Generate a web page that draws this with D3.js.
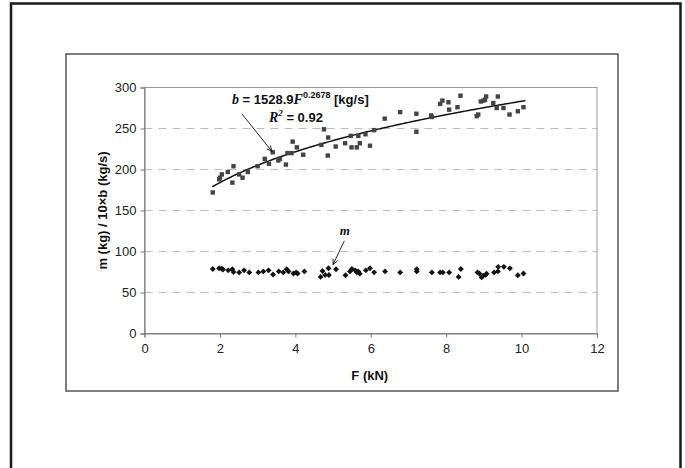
<!DOCTYPE html>
<html>
<head>
<meta charset="utf-8">
<script src="https://cdnjs.cloudflare.com/ajax/libs/d3/7.8.5/d3.min.js"></script>
<style>
  body { margin: 0; background: #fff; }
  svg { display: block; }
  .tick text { font-family: "Liberation Sans", Arial, sans-serif; font-size: 13px; fill: #222; }
</style>
</head>
<body>
<div id="chart"></div>
<script>
// b data: F (kN) and 10 x b (kg/s)
var bF = [1.81, 1.98, 2.00, 2.05, 2.21, 2.36, 2.33, 2.51, 2.60, 2.74, 3.00, 3.19, 3.30, 3.40, 3.55,
  3.59, 3.75, 3.79, 3.93, 3.90, 4.04, 4.21, 4.69, 4.76, 4.87, 4.86, 5.07, 5.32, 5.47, 5.49,
  5.63, 5.67, 5.71, 5.86, 5.98, 6.09, 6.37, 6.78, 7.21, 7.21, 7.60, 7.62, 7.84, 7.90, 8.06,
  8.08, 8.30, 8.38, 8.81, 8.85, 8.92, 8.99, 9.03, 9.06, 9.25, 9.34, 9.37, 9.52, 9.68, 9.90, 10.05];
var bVal = [172, 188, 190, 194, 197, 204, 184, 194, 190, 197, 204, 213, 207, 221, 211,
  213, 206, 220, 234, 220, 227, 218, 230, 249, 239, 217, 228, 232, 241, 227,
  227, 241, 232, 243, 229, 248, 262, 270, 268, 246, 266, 264, 280, 284, 282,
  273, 276, 290, 265, 267, 283, 284, 285, 289, 281, 275, 289, 275, 267, 271, 276];

// m data: F (kN) and m (kg)
var mF = [1.81, 1.98, 2.05, 2.08, 2.22, 2.33, 2.36, 2.51, 2.64, 2.78, 3.02, 3.15, 3.29, 3.41, 3.56,
  3.68, 3.77, 3.82, 3.95, 4.02, 4.06, 4.24, 4.67, 4.72, 4.79, 4.89, 4.88, 5.08, 5.33, 5.45,
  5.50, 5.59, 5.63, 5.67, 5.71, 5.87, 5.98, 6.09, 6.38, 6.78, 7.22, 7.22, 7.62, 7.84, 7.91,
  8.08, 8.33, 8.39, 8.83, 8.88, 8.94, 8.98, 9.05, 9.07, 9.27, 9.37, 9.38, 9.53, 9.69, 9.90, 10.05];
var mVal = [78.7, 79.5, 79, 78, 77, 78.3, 75, 74.5, 77, 74.5, 74.5, 75.7, 77, 72, 75.7,
  74.5, 78.3, 75.7, 73.2, 74.5, 73.2, 75.7, 69, 76.2, 71.3, 71.3, 79.5, 78.3, 71, 75.7,
  78.7, 77, 74.6, 75.7, 73, 77, 79.5, 74.6, 75.7, 74.5, 78.3, 75.7, 74.5, 74.5, 74.5,
  74.5, 69, 78.7, 74.5, 73.2, 68.5, 70.5, 71.6, 73, 74.5, 75.7, 81.3, 81.3, 79.5, 71, 73.2];

// power fit from the chart label: b = 1528.9 F^0.2678, plotted as 10 x b
var fitA = 1528.9, fitB = 0.2678, fitFrom = 1.8, fitTo = 10.1;

var xTicks = [0, 2, 4, 6, 8, 10, 12];
var yTicks = [0, 50, 100, 150, 200, 250, 300];

var svgWidth = 685, svgHeight = 468;
var svg = d3.select("#chart").append("svg")
  .attr("width", svgWidth)
  .attr("height", svgHeight);

// page frame
svg.append("path")
  .attr("d", "M11,470 L11,3.5 L680.5,3.5 L680.5,470")
  .attr("fill", "none")
  .attr("stroke", "#1a1a1a")
  .attr("stroke-width", 2.5);

// chart box
svg.append("rect")
  .attr("x", 66).attr("y", 54)
  .attr("width", 552).attr("height", 337)
  .attr("fill", "none")
  .attr("stroke", "#555")
  .attr("stroke-width", 1.5);

var margin = { left: 144.5, top: 87.5 };
var width = 452.5, height = 246;

var chartGroup = svg.append("g")
  .attr("transform", `translate(${margin.left}, ${margin.top})`);

var x = d3.scaleLinear().domain([0, 12]).range([0, width]);
var y = d3.scaleLinear().domain([0, 300]).range([height, 0]);

// gridlines
chartGroup.append("g").selectAll("line")
  .data(yTicks.filter(d => d > 0 && d < 300))
  .enter().append("line")
  .attr("x1", 0).attr("x2", width)
  .attr("y1", d => y(d)).attr("y2", d => y(d))
  .attr("stroke", "#bdbdbd")
  .attr("stroke-dasharray", "8,6");

// plot area border
chartGroup.append("rect")
  .attr("x", 0).attr("y", 0)
  .attr("width", width).attr("height", height)
  .attr("fill", "none")
  .attr("stroke", "#999")
  .attr("stroke-width", 1);

// axes
var bottomAxis = d3.axisBottom(x).tickValues(xTicks).tickSize(4).tickPadding(6);
var leftAxis = d3.axisLeft(y).tickValues(yTicks).tickSize(4).tickPadding(4);

var gx = chartGroup.append("g")
  .attr("transform", `translate(0, ${height})`)
  .call(bottomAxis);
var gy = chartGroup.append("g").call(leftAxis);
[gx, gy].forEach(g => {
  g.select(".domain").attr("stroke", "#777");
  g.selectAll(".tick line").attr("stroke", "#777");
});

// fit curve
var fitPts = d3.range(fitFrom, fitTo + 0.001, 0.05).map(f => [f, fitA * Math.pow(f, fitB) / 10]);
var line = d3.line().x(d => x(d[0])).y(d => y(d[1]));
chartGroup.append("path")
  .datum(fitPts)
  .attr("d", line)
  .attr("fill", "none")
  .attr("stroke", "#111")
  .attr("stroke-width", 1.5);

// b points (squares)
chartGroup.append("g").selectAll("rect")
  .data(bF.map((f, i) => [f, bVal[i]]))
  .enter().append("rect")
  .attr("x", d => x(d[0]) - 2.2)
  .attr("y", d => y(d[1]) - 2.2)
  .attr("width", 4.4).attr("height", 4.4)
  .attr("fill", "#444");

// m points (diamonds)
var diamond = d3.symbol().type(d3.symbolDiamond2).size(22);
chartGroup.append("g").selectAll("path")
  .data(mF.map((f, i) => [f, mVal[i]]))
  .enter().append("path")
  .attr("d", diamond)
  .attr("transform", d => `translate(${x(d[0])}, ${y(d[1])})`)
  .attr("fill", "#111");

// arrow marker
svg.append("defs").append("marker")
  .attr("id", "arr")
  .attr("viewBox", "0 0 10 10")
  .attr("refX", 9).attr("refY", 5)
  .attr("markerWidth", 7).attr("markerHeight", 7)
  .attr("orient", "auto")
  .append("path")
  .attr("d", "M0,1 L9,5 L0,9")
  .attr("fill", "none")
  .attr("stroke", "#111")
  .attr("stroke-width", 1.3);

// arrows (pointing to a b point and an m point)
chartGroup.append("line")
  .attr("x1", x(2.58)).attr("y1", y(268))
  .attr("x2", x(3.38)).attr("y2", y(222))
  .attr("stroke", "#111").attr("stroke-width", 0.9)
  .attr("marker-end", "url(#arr)");
chartGroup.append("line")
  .attr("x1", x(5.3)).attr("y1", y(113))
  .attr("x2", x(5.0)).attr("y2", y(84))
  .attr("stroke", "#111").attr("stroke-width", 0.9)
  .attr("marker-end", "url(#arr)");

// equation label
var serif = "'Liberation Serif', 'Times New Roman', serif";
var sans = "'Liberation Sans', Arial, sans-serif";
var eq = chartGroup.append("text")
  .attr("x", x(2.32)).attr("y", y(280))
  .attr("font-family", sans)
  .attr("font-weight", "bold")
  .attr("font-size", 13)
  .attr("fill", "#111");
eq.append("tspan").attr("font-family", serif).attr("font-style", "italic").attr("font-size", 14).text("b");
eq.append("tspan").text(" = 1528.9");
eq.append("tspan").attr("font-family", serif).attr("font-style", "italic").attr("font-size", 14).text("F");
eq.append("tspan").attr("font-size", 9).attr("dy", -6).text("0.2678");
eq.append("tspan").attr("dy", 6).text(" [kg/s]");

var r2 = chartGroup.append("text")
  .attr("x", x(3.3)).attr("y", y(258))
  .attr("font-family", sans)
  .attr("font-weight", "bold")
  .attr("font-size", 13)
  .attr("fill", "#111");
r2.append("tspan").attr("font-family", serif).attr("font-style", "italic").attr("font-size", 14).text("R");
r2.append("tspan").attr("font-family", serif).attr("font-style", "italic").attr("font-size", 9).attr("dy", -6).text("2");
r2.append("tspan").attr("dy", 6).text(" = 0.92");

chartGroup.append("text")
  .attr("x", x(5.18)).attr("y", y(120))
  .attr("font-family", serif)
  .attr("font-style", "italic")
  .attr("font-weight", "bold")
  .attr("font-size", 13)
  .attr("fill", "#111")
  .text("m");

// axis titles
chartGroup.append("text")
  .attr("x", width / 2 - 1).attr("y", height + 46)
  .attr("text-anchor", "middle")
  .attr("font-family", sans)
  .attr("font-weight", "bold")
  .attr("font-size", 13)
  .attr("fill", "#111")
  .text("F (kN)");

chartGroup.append("text")
  .attr("transform", `translate(${-38}, ${height / 2}) rotate(-90)`)
  .attr("text-anchor", "middle")
  .attr("font-family", sans)
  .attr("font-weight", "bold")
  .attr("font-size", 13)
  .attr("fill", "#111")
  .text("m (kg) / 10×b (kg/s)");
</script>
</body>
</html>
